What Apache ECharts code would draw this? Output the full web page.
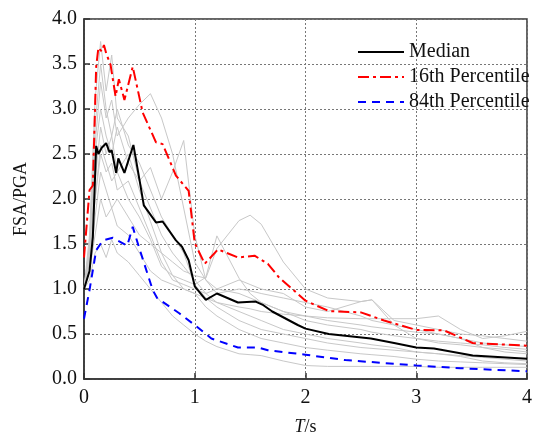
<!DOCTYPE html>
<html>
<head>
<meta charset="utf-8">
<script src="https://cdn.jsdelivr.net/npm/echarts@6/dist/echarts.min.js"></script>
<style>
  html, body { margin: 0; padding: 0; background: #fff; }
  #chart { width: 535px; height: 441px; }
</style>
</head>
<body>
<div id="chart"></div>
<script>
// period axis shared by the individual records (grey)
var grayT = [0, 0.05, 0.1, 0.15, 0.2, 0.25, 0.3, 0.4, 0.5, 0.6, 0.7, 0.8, 0.9, 1.0, 1.1, 1.2, 1.4, 1.5, 1.6, 1.8, 2.0, 2.2, 2.5, 2.6, 2.8, 3.0, 3.2, 3.4, 3.6, 3.8, 4.0]
var rec1 = [1.0, 1.6, 3.1, 3.75, 3.2, 3.6, 2.9, 2.7, 2.2, 1.9, 1.6, 1.4, 1.25, 1.1, 0.95, 0.85, 0.75, 0.7, 0.65, 0.55, 0.5, 0.45, 0.4, 0.38, 0.35, 0.3, 0.28, 0.26, 0.24, 0.22, 0.2]
var rec2 = [1.0, 1.4, 2.6, 3.3, 2.9, 3.1, 2.7, 2.9, 3.05, 3.17, 2.9, 2.5, 1.9, 1.3, 1.1, 1.0, 0.95, 0.9, 0.85, 0.75, 0.65, 0.6, 0.55, 0.52, 0.48, 0.45, 0.42, 0.4, 0.38, 0.35, 0.33]
var rec3 = [1.0, 1.5, 2.5, 3.0, 2.7, 2.5, 2.8, 2.4, 2.2, 2.35, 2.0, 2.3, 2.65, 1.6, 1.1, 0.95, 1.0, 0.98, 0.95, 0.9, 0.85, 0.8, 0.7, 0.65, 0.6, 0.55, 0.5, 0.45, 0.4, 0.38, 0.36]
var rec4 = [1.0, 1.2, 1.8, 2.3, 2.1, 1.9, 2.0, 1.8, 1.6, 1.5, 1.4, 1.3, 1.2, 1.15, 1.12, 1.45, 1.76, 1.82, 1.72, 1.3, 1.0, 0.9, 0.86, 0.88, 0.65, 0.6, 0.55, 0.5, 0.48, 0.45, 0.42]
var rec5 = [1.0, 1.3, 2.0, 2.6, 2.4, 2.2, 2.3, 2.0, 1.8, 1.55, 1.25, 1.15, 1.1, 1.05, 1.13, 1.59, 1.12, 0.95, 0.85, 0.75, 0.7, 0.65, 0.6, 0.58, 0.55, 0.52, 0.5, 0.45, 0.35, 0.3, 0.28]
var rec6 = [1.0, 1.1, 1.4, 1.5, 1.35, 1.55, 1.4, 1.3, 1.15, 1.0, 0.85, 0.7, 0.6, 0.5, 0.42, 0.36, 0.28, 0.27, 0.26, 0.2, 0.15, 0.14, 0.14, 0.14, 0.14, 0.14, 0.13, 0.13, 0.13, 0.13, 0.13]
var rec7 = [1.0, 1.4, 2.2, 2.8, 2.5, 2.7, 2.3, 2.5, 2.1, 1.75, 1.4, 1.15, 1.0, 0.95, 0.9, 0.85, 0.8, 0.78, 0.75, 0.72, 0.7, 0.68, 0.67, 0.67, 0.67, 0.67, 0.7, 0.55, 0.45, 0.48, 0.53]
var rec8 = [1.0, 1.3, 2.0, 2.5, 2.3, 2.4, 2.1, 2.2, 1.9, 1.6, 1.3, 1.1, 1.05, 1.0, 0.95, 1.0, 1.1, 1.05, 1.0, 0.95, 0.8, 0.75, 0.86, 0.88, 0.6, 0.45, 0.4, 0.38, 0.35, 0.33, 0.3]
var rec9 = [1.0, 1.2, 1.6, 2.0, 1.8, 1.9, 1.7, 1.6, 1.4, 1.2, 1.1, 1.05, 1.0, 0.95, 0.8, 0.7, 0.55, 0.5, 0.45, 0.4, 0.35, 0.32, 0.28, 0.27, 0.25, 0.22, 0.2, 0.19, 0.18, 0.17, 0.16]
var rec10 = [1.0, 1.5, 2.8, 3.5, 3.0, 2.7, 3.0, 2.6, 2.4, 2.1, 1.8, 1.6, 1.4, 1.05, 0.9, 0.8, 0.65, 0.6, 0.55, 0.5, 0.45, 0.4, 0.35, 0.34, 0.32, 0.3, 0.28, 0.25, 0.2, 0.18, 0.17]
var records = [rec1, rec2, rec3, rec4, rec5, rec6, rec7, rec8, rec9, rec10]

var medianT = [0, 0.05, 0.08, 0.11, 0.13, 0.14, 0.16, 0.2, 0.23, 0.25, 0.29, 0.31, 0.365, 0.38, 0.446, 0.5, 0.54, 0.65, 0.71, 0.83, 0.885, 0.945, 1.0, 1.1, 1.2, 1.39, 1.55, 1.62, 1.7, 1.93, 2.0, 2.21, 2.59, 2.8, 3.0, 3.16, 3.51, 4.0]
var medianV = [1.0, 1.2, 1.58, 2.59, 2.5, 2.48, 2.57, 2.62, 2.52, 2.54, 2.29, 2.45, 2.29, 2.28, 2.6, 2.22, 1.93, 1.74, 1.75, 1.54, 1.47, 1.32, 1.03, 0.88, 0.95, 0.85, 0.86, 0.82, 0.75, 0.6, 0.56, 0.5, 0.45, 0.4, 0.35, 0.34, 0.26, 0.225]

var p16T = [0, 0.01, 0.05, 0.08, 0.11, 0.13, 0.16, 0.18, 0.2, 0.24, 0.285, 0.315, 0.365, 0.44, 0.53, 0.65, 0.71, 0.83, 0.945, 1.0, 1.09, 1.21, 1.39, 1.54, 1.66, 1.76, 2.0, 2.21, 2.5, 2.71, 3.0, 3.25, 3.51, 4.0]
var p16V = [1.35, 1.37, 2.1, 2.15, 3.47, 3.68, 3.64, 3.71, 3.62, 3.49, 3.14, 3.33, 3.1, 3.47, 2.96, 2.63, 2.61, 2.26, 2.09, 1.51, 1.28, 1.44, 1.35, 1.37, 1.28, 1.13, 0.87, 0.755, 0.74, 0.65, 0.545, 0.54, 0.4, 0.37]

var p84T = [0, 0.05, 0.11, 0.17, 0.26, 0.39, 0.44, 0.5, 0.62, 0.66, 0.86, 1.0, 1.15, 1.39, 1.57, 1.66, 2.0, 2.36, 3.0, 3.4, 4.0]
var p84V = [0.67, 0.99, 1.43, 1.54, 1.57, 1.48, 1.69, 1.45, 0.99, 0.9, 0.73, 0.6, 0.45, 0.35, 0.35, 0.32, 0.27, 0.21, 0.15, 0.12, 0.085]

var legendNames = ['Median', '16th Percentile', '84th Percentile']

function pairs(xs, ys) {
  return xs.map(function(x, i) { return [x, ys[i]] })
}

var serif = '"Liberation Serif", "DejaVu Serif", serif'
var chart = echarts.init(document.getElementById('chart'))

var series = records.map(function(r, i) {
  return {
    name: 'rec' + (i + 1),
    type: 'line',
    data: pairs(grayT, r),
    symbol: 'none',
    silent: true,
    lineStyle: { color: '#c8c8c8', width: 1 },
    z: 1
  }
})
series.push({
  name: legendNames[0],
  type: 'line',
  data: pairs(medianT, medianV),
  symbol: 'none',
  color: '#000',
  lineStyle: { color: '#000', width: 2 },
  z: 4
})
series.push({
  name: legendNames[1],
  type: 'line',
  data: pairs(p16T, p16V),
  symbol: 'none',
  color: '#ff0000',
  lineStyle: { color: '#ff0000', width: 2, type: [11, 4, 3, 4] },
  z: 3
})
series.push({
  name: legendNames[2],
  type: 'line',
  data: pairs(p84T, p84V),
  symbol: 'none',
  color: '#0000ff',
  lineStyle: { color: '#0000ff', width: 2, type: [8, 6] },
  z: 3
})

chart.setOption({
  animation: false,
  backgroundColor: '#fff',
  grid: {
    left: 84,
    right: 3,
    top: 19,
    bottom: 60,
    show: true,
    borderColor: '#333',
    borderWidth: 1.5
  },
  legend: {
    data: legendNames,
    orient: 'vertical',
    left: 352,
    top: 37,
    itemWidth: 46,
    itemHeight: 14,
    itemGap: 5,
    itemStyle: { opacity: 0 },
    textStyle: { fontFamily: serif, fontSize: 20, lineHeight: 20, color: '#111' }
  },
  xAxis: {
    type: 'value',
    min: 0,
    max: 4,
    interval: 1,
    name: '{i|T}/s',
    nameLocation: 'middle',
    nameGap: 39,
    nameTextStyle: {
      fontFamily: serif, fontSize: 18, color: '#111',
      rich: { i: { fontFamily: serif, fontSize: 18, fontStyle: 'italic', color: '#111' } }
    },
    axisLine: { show: true, lineStyle: { color: '#333', width: 1.5 } },
    axisTick: { show: true, inside: true, length: 6, lineStyle: { color: '#333', width: 1.5 } },
    axisLabel: { fontFamily: serif, fontSize: 20, color: '#111', margin: 9 },
    splitLine: { show: true, lineStyle: { color: '#777', width: 1, type: [2, 2] } }
  },
  yAxis: {
    type: 'value',
    min: 0,
    max: 4,
    interval: 0.5,
    name: 'FSA/PGA',
    nameLocation: 'middle',
    nameGap: 54,
    nameTextStyle: { fontFamily: serif, fontSize: 18, color: '#111' },
    axisLine: { show: true, lineStyle: { color: '#333', width: 1.5 } },
    axisTick: { show: true, inside: true, length: 6, lineStyle: { color: '#333', width: 1.5 } },
    axisLabel: {
      fontFamily: serif, fontSize: 20, color: '#111', margin: 7,
      formatter: function(v) { return v.toFixed(1) }
    },
    splitLine: { show: true, lineStyle: { color: '#777', width: 1, type: [2, 2] } }
  },
  series: series
})
</script>
</body>
</html>
